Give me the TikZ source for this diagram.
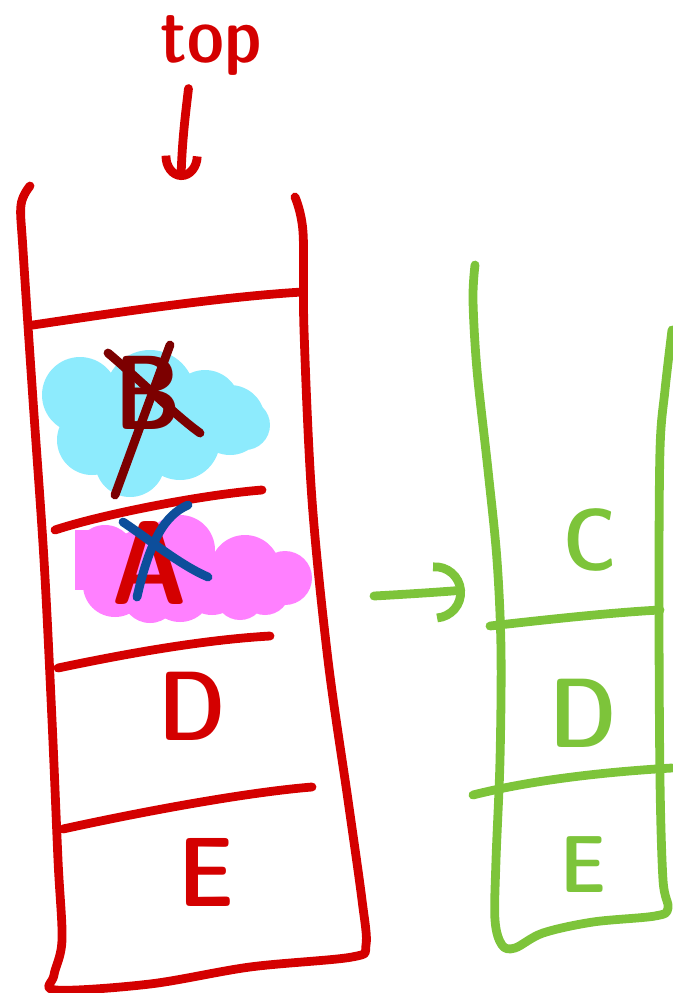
\documentclass[tikz,border=0pt]{standalone}
\definecolor{penred}{HTML}{D40000}
\definecolor{pendark}{HTML}{7C0000}
\definecolor{penblue}{HTML}{0D4E9B}
\definecolor{pengreen}{HTML}{7DC43A}
\definecolor{hlcyan}{HTML}{8DEBFD}
\definecolor{hlpink}{HTML}{FF80FF}
\usepackage{tikz}
\usetikzlibrary{arrows.meta}
\tikzset{
  redpen/.style={penred,line width=2.5pt,line cap=round,line join=round},
  greenpen/.style={pengreen,line width=2.5pt,line cap=round,line join=round},
  xout/.style={line width=2.5pt,line cap=round},
  hand/.style={font=\sffamily\fontseries{sbc}\fontsize{#1}{#1}\selectfont,inner sep=0pt},
}

\begin{document}
\begin{tikzpicture}[x=0.01cm,y=-0.01cm]
  \useasboundingbox (0,0) rectangle (673,993);
  % highlighter behind the two popped entries
  \fill[hlcyan] (80,395) circle (38) (92,440) circle (35) (130,462) circle (35)
    (150,395) circle (45) (180,440) circle (40) (205,405) circle (35)
    (230,420) circle (35) (245,425) circle (25);
  \fill[hlpink] (75,530) rectangle (110,590);
  \fill[hlpink] (105,555) circle (30) (115,585) circle (32) (180,550) circle (35)
    (180,590) circle (32) (245,570) circle (35) (240,595) circle (25)
    (285,578) circle (27) (150,595) circle (28) (212,585) circle (30)
    (265,590) circle (25) (140,560) circle (30);
  % old stack
  \draw[redpen] plot[smooth,tension=0.55] coordinates {(30,186) (21,205) (23,250)
    (33,400) (44,560) (52,720) (58,860) (62,940) (54,975) (56,990) (150,984)
    (250,967) (352,957) (366,945) (362,900) (348,800) (328,660) (312,500)
    (304,330) (303,232) (295,197)};
  \draw[redpen] (33,325) .. controls (120,312) and (220,297) .. (302,292);
  \draw[redpen] (55,530) .. controls (100,515) and (200,495) .. (262,490);
  \draw[redpen] (58,668) .. controls (120,655) and (200,640) .. (270,636);
  \draw[redpen] (63,829) .. controls (150,810) and (250,792) .. (312,787);
  \node[hand=22,text=penred] (toplbl) at (211,45) {top};
  \node[hand=30,text=pendark] (slotB) at (148,393) {B};
  \node[hand=34,text=penred] (slotA) at (150,563) {A};
  \node[hand=28,text=penred] (slotD) at (192,706) {D};
  \node[hand=28,text=penred] (slotE) at (206,872) {E};
  % crossed out
  \draw[xout,pendark] (115,495) -- (170,345);
  \draw[xout,pendark] (108,353) .. controls (140,380) and (175,415) .. (200,433);
  \draw[xout,penblue] (123,522) .. controls (150,540) and (180,565) .. (208,577);
  \draw[xout,penblue] (188,505) .. controls (165,515) and (150,540) .. (137,597);
  \coordinate (stacktop) at (181,180);
  \draw[redpen,-{Arc Barb[length=2.4mm,width=4mm]},shorten <=0.13cm]
    ([xshift=-0.21cm]toplbl.south) .. controls (186,110) and (182,140) .. (stacktop);
  % new stack
  \draw[greenpen] plot[smooth,tension=0.55] coordinates {(475,265) (473,300)
    (477,370) (488,470) (497,560) (501,650) (500,760) (496,860) (495,920)
    (502,945) (515,948) (543,933) (593,922) (655,916) (668,908) (663,880)
    (660,780) (659,600) (660,450) (665,390) (672,330)};
  \draw[greenpen] (490,626) .. controls (560,618) and (620,612) .. (660,610);
  \draw[greenpen] (473,795) .. controls (540,778) and (620,771) .. (672,768);
  \node[hand=25,text=pengreen] (newC) at (590,540) {C};
  \node[hand=28,text=pengreen] (newD) at (583,713) {D};
  \node[hand=23,text=pengreen] (newE) at (583,865) {E};
  \coordinate (popfrom) at (374,596);
  \coordinate (popto) at (465,590);
  \draw[greenpen,-{Arc Barb[length=3mm,width=6mm]}]
    (popfrom) .. controls (410,594) and (440,592) .. (popto);
\end{tikzpicture}
\end{document}
